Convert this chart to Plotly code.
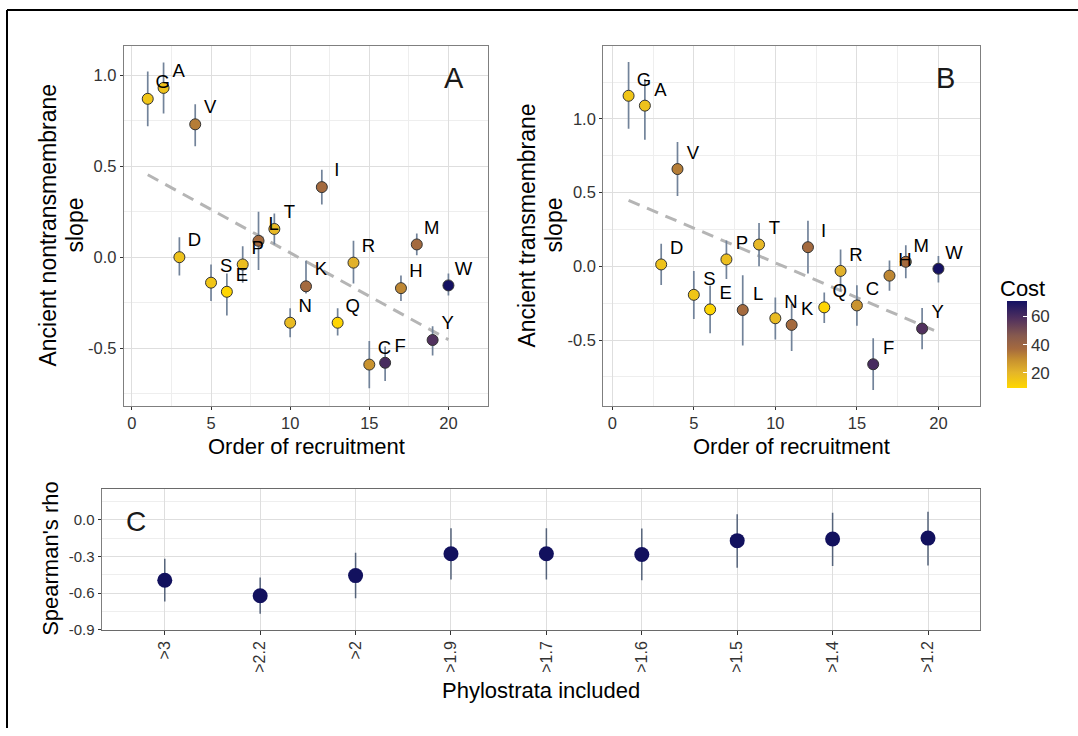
import numpy as np
import plotly.graph_objects as go

W, H = 1078, 736

# ---------------- data ----------------
amino = ["G", "A", "D", "V", "S", "E", "P", "L", "T", "N",
         "K", "I", "Q", "R", "C", "F", "H", "M", "Y", "W"]
order = list(range(1, 21))
cost = [15, 16, 16, 33, 15, 9.5, 17, 37, 19, 18,
        37, 37, 9.5, 21, 28.5, 60, 31, 37, 58, 70.6]

nontm_slope = [0.87, 0.93, 0.00, 0.73, -0.14, -0.19, -0.04, 0.09, 0.155, -0.36,
               -0.16, 0.385, -0.36, -0.03, -0.59, -0.58, -0.17, 0.07, -0.455, -0.155]
nontm_hi = [1.02, 1.07, 0.11, 0.84, -0.04, -0.09, 0.06, 0.25, 0.24, -0.28,
            -0.02, 0.48, -0.28, 0.09, -0.46, -0.49, -0.10, 0.13, -0.38, -0.09]
nontm_lo = [0.72, 0.79, -0.10, 0.61, -0.24, -0.32, -0.14, -0.07, 0.07, -0.44,
            -0.20, 0.29, -0.43, -0.145, -0.72, -0.68, -0.24, 0.01, -0.54, -0.21]

tm_slope = [1.157, 1.09, 0.013, 0.66, -0.193, -0.292, 0.047, -0.296, 0.148, -0.352,
            -0.397, 0.13, -0.278, -0.031, -0.265, -0.664, -0.063, 0.031, -0.422, -0.016]
tm_hi = [1.386, 1.27, 0.153, 0.843, -0.031, -0.13, 0.175, -0.06, 0.294, -0.211,
         -0.256, 0.31, -0.177, 0.114, -0.128, -0.487, 0.04, 0.144, -0.283, 0.07]
tm_lo = [0.933, 0.859, -0.126, 0.478, -0.357, -0.453, -0.085, -0.536, 0.0, -0.496,
         -0.574, -0.049, -0.384, -0.17, -0.402, -0.839, -0.166, -0.081, -0.563, -0.11]

phylo = [">3", ">2.2", ">2", ">1.9", ">1.7", ">1.6", ">1.5", ">1.4", ">1.2"]
rho = [-0.495, -0.622, -0.457, -0.278, -0.278, -0.284, -0.170, -0.157, -0.149]
rho_hi = [-0.319, -0.473, -0.27, -0.068, -0.068, -0.07, 0.046, 0.059, 0.068]
rho_lo = [-0.670, -0.770, -0.643, -0.489, -0.489, -0.495, -0.392, -0.378, -0.373]

ab_xticks = [0, 5, 10, 15, 20]
ab_yticks = [-0.5, 0.0, 0.5, 1.0]
c_yticks = [-0.9, -0.6, -0.3, 0.0]
cost_ticks = [20, 40, 60]

# ---------------- colour scale (gold -> brown -> purple -> midnight blue) ----------------
colorscale = [
    [0.00, "#ffd700"],
    [0.18, "#e4b52a"],
    [0.32, "#c8922f"],
    [0.45, "#a56a3e"],
    [0.60, "#875a4e"],
    [0.80, "#50305e"],
    [1.00, "#141162"],
]

# ---------------- helpers ----------------
def px(x):
    return x / W

def py(y):
    return 1 - y / H

FONT = "Liberation Sans, Arial, sans-serif"
ERR_COL = "#72839a"

fig = go.Figure()

def panel(xs, ys, hi, lo, xa, ya, nudge_y):
    xs = np.array(xs, float)
    ys = np.array(ys, float)
    k, b0 = np.polyfit(xs, ys, 1)
    xl = np.array([xs.min(), xs.max()])
    fig.add_trace(go.Scatter(x=xl, y=k * xl + b0, mode="lines", xaxis=xa, yaxis=ya,
                             line=dict(color="#b5b5b5", width=3, dash="12px,8px"),
                             hoverinfo="skip", showlegend=False))
    fig.add_trace(go.Scatter(
        x=xs, y=ys, mode="markers", xaxis=xa, yaxis=ya, showlegend=False,
        error_y=dict(type="data", symmetric=False,
                     array=np.array(hi) - ys, arrayminus=ys - np.array(lo),
                     color=ERR_COL, thickness=1.7, width=0),
        marker=dict(size=11, color=cost, coloraxis="coloraxis",
                    line=dict(color="#333333", width=1))))
    fig.add_trace(go.Scatter(
        x=xs + 0.95, y=ys + nudge_y, mode="text", text=amino, xaxis=xa, yaxis=ya,
        textfont=dict(family=FONT, size=18.5, color="black"), cliponaxis=False,
        hoverinfo="skip", showlegend=False))

panel(order, nontm_slope, nontm_hi, nontm_lo, "x", "y", 0.085)
panel(order, tm_slope, tm_hi, tm_lo, "x2", "y2", 0.10)

rho_a = np.array(rho)
fig.add_trace(go.Scatter(
    x=phylo, y=rho, mode="markers", xaxis="x3", yaxis="y3", showlegend=False,
    error_y=dict(type="data", symmetric=False,
                 array=np.array(rho_hi) - rho_a, arrayminus=rho_a - np.array(rho_lo),
                 color="#55637a", thickness=1.5, width=0),
    marker=dict(size=15, color="#12115e", line=dict(width=0))))

GRID = "#dedede"
MINOR = "#eeeeee"

def num_axis(domain, rng, tickvals, minorvals, anchor, fontsize=16.5):
    return dict(domain=domain, range=rng, anchor=anchor,
                tickmode="array", tickvals=tickvals,
                ticktext=[(f"{v:.1f}" if isinstance(v, float) else str(v)) for v in tickvals],
                showgrid=True, gridcolor=GRID, gridwidth=1, zeroline=False,
                showline=True, mirror=True, linecolor="#7f7f7f", linewidth=1.3,
                ticks="outside", ticklen=3, tickcolor="#333333", tickwidth=1,
                tickfont=dict(family=FONT, size=fontsize, color="#333333"),
                minor=dict(tickvals=minorvals, showgrid=True, gridcolor=MINOR,
                           gridwidth=1, ticks=""))

ab_ydom = [py(410), py(46)]
layout = dict(
    width=W, height=H, margin=dict(l=0, r=0, t=0, b=0),
    paper_bgcolor="white", plot_bgcolor="white", showlegend=False,
    font=dict(family=FONT, color="black"),
    xaxis=num_axis([px(124), px(488)], [-0.5, 22.5], ab_xticks, [2.5, 7.5, 12.5, 17.5, 22.5], "y"),
    yaxis=num_axis(ab_ydom, [-0.815, 1.163], ab_yticks, [-0.75, -0.25, 0.25, 0.75], "x"),
    xaxis2=num_axis([px(603.3), px(980)], [-0.55, 22.55], ab_xticks, [2.5, 7.5, 12.5, 17.5, 22.5], "y2"),
    yaxis2=num_axis(ab_ydom, [-0.944, 1.498], ab_yticks, [-0.75, -0.25, 0.25, 0.75, 1.25], "x2"),
    yaxis3=num_axis([py(636.5), py(494)], [-0.9, 0.257], c_yticks, [-0.75, -0.45, -0.15, 0.15], "x3", 15),
    xaxis3=dict(domain=[px(101.8), px(980)], anchor="y3", type="category",
                range=[-0.66, 8.545], showgrid=True, gridcolor=GRID, gridwidth=1,
                showline=True, mirror=True, linecolor="#6a6a6a", linewidth=1.3,
                ticks="outside", ticklen=4, tickcolor="#333333", tickangle=-90,
                tickfont=dict(family=FONT, size=16, color="#333333")),
    coloraxis=dict(
        colorscale=colorscale, cmin=9, cmax=70.6,
        colorbar=dict(x=px(1007), xanchor="left", y=py(348.7), yanchor="middle",
                      len=87.3, lenmode="pixels", thickness=19.5, thicknessmode="pixels",
                      tickmode="array", tickvals=cost_ticks, ticks="inside", ticklen=4,
                      tickcolor="white", tickfont=dict(family=FONT, size=17, color="#333333"),
                      outlinewidth=0, xpad=0, ypad=0)),
)
fig.update_layout(**layout)

ann = []
def add_text(x, y, text, size, angle=0, color="black"):
    ann.append(dict(x=px(x), y=py(y), xref="paper", yref="paper", text=text,
                    showarrow=False, textangle=angle, xanchor="center", yanchor="middle",
                    borderpad=0, font=dict(family=FONT, size=size, color=color)))

# axis titles
add_text(48, 228, "Ancient nontransmembrane", 23, -90)
add_text(75, 228, "slope", 23, -90)
add_text(306, 451, "Order of recruitment", 22)
add_text(527, 228, "Ancient transmembrane", 23, -90)
add_text(554, 228, "slope", 23, -90)
add_text(791, 451, "Order of recruitment", 22)
add_text(51, 565, "Spearman's rho", 22, -90)
add_text(541, 698, "Phylostrata included", 22)
add_text(1022.5, 292, "Cost", 22)
# panel letters
add_text(454, 79, "A", 29, 0, "#1a1a1a")
add_text(945, 79, "B", 29, 0, "#1a1a1a")
add_text(136, 527, "C", 28, 0, "#1a1a1a")
fig.update_layout(annotations=ann)

# outer frame (top and left)
fig.update_layout(shapes=[
    dict(type="line", xref="paper", yref="paper", x0=px(7), x1=1.0, y0=py(10), y1=py(10),
         line=dict(color="black", width=2)),
    dict(type="line", xref="paper", yref="paper", x0=px(7), x1=px(7), y0=py(10), y1=0.0,
         line=dict(color="black", width=2)),
])

fig.write_html("out.html")
